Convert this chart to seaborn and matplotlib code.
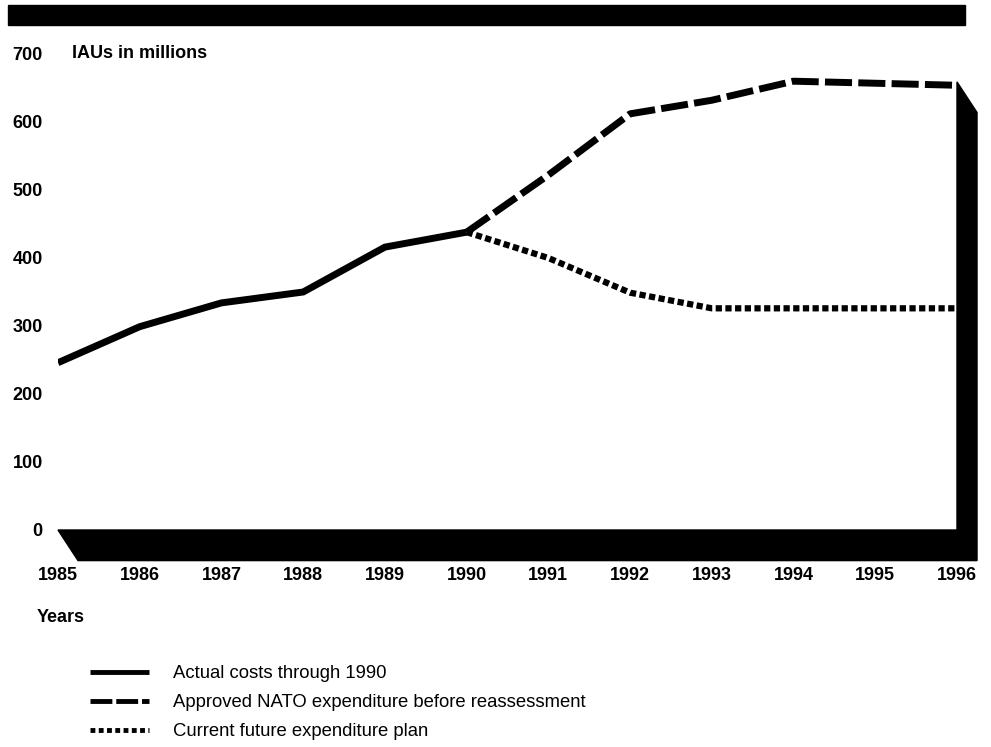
# NATO infrastructure expenditure chart (IAUs in millions)
import pandas as pd
import matplotlib.pyplot as plt
import seaborn as sns
from matplotlib.lines import Line2D
from matplotlib.patches import Rectangle

# data
years = [1985, 1986, 1987, 1988, 1989, 1990, 1991, 1992, 1993, 1994, 1995, 1996]
actual_years = [1985, 1986, 1987, 1988, 1989, 1990]
actual = [246, 299, 334, 350, 416, 438]
plan_years = [1990, 1991, 1992, 1993, 1994, 1995, 1996]
approved = [438, 522, 612, 632, 660, 657, 654]
current_plan = [438, 400, 349, 326, 326, 326, 326]
y_ticks = [0, 100, 200, 300, 400, 500, 600, 700]

labels = ["Actual costs through 1990",
          "Approved NATO expenditure before reassessment",
          "Current future expenditure plan"]

df_actual = pd.DataFrame({"year": actual_years, "value": actual})
df_plan = pd.DataFrame({"year": plan_years, "approved": approved, "current": current_plan})

sns.set_style("white")
plt.rcParams['font.family'] = ['Liberation Sans', 'DejaVu Sans']
plt.rcParams['text.color'] = 'black'
plt.rcParams['xtick.color'] = 'black'
plt.rcParams['ytick.color'] = 'black'

fig = plt.figure(figsize=(9.91, 7.47), dpi=100)
ax = fig.add_axes([58 / 991, 1 - 530 / 747, (957 - 58) / 991, 476 / 747])

# black bar across the top
fig.patches.append(Rectangle((8 / 991, 1 - 25 / 747), (965 - 8) / 991, 20 / 747,
                             transform=fig.transFigure, color='black', zorder=0))

dash_style = (0, (3.9, 0.9))
dot_style = (0, (1.0, 0.55))

sns.lineplot(data=df_actual, x="year", y="value", ax=ax, color='black', lw=5,
             solid_capstyle='butt', solid_joinstyle='miter')
sns.lineplot(data=df_plan, x="year", y="approved", ax=ax, color='black', lw=5,
             linestyle=dash_style, dash_capstyle='butt')
sns.lineplot(data=df_plan, x="year", y="current", ax=ax, color='black', lw=4.5,
             linestyle=dot_style, dash_capstyle='butt')

ax.set_xlim(years[0], years[-1])
ax.set_ylim(0, 700)

# 3-D looking floor and right wall
dx, dy = 0.245, 45
top = approved[-1] + 5
ax.fill([years[0], years[-1], years[-1], years[-1] + dx, years[-1] + dx, years[0] + dx],
        [0, 0, top, top - dy, -dy, -dy], color='black', clip_on=False, zorder=1)

for s in ax.spines.values():
    s.set_visible(False)
ax.set_xticks(years)
ax.set_yticks(y_ticks)
ax.tick_params(axis='x', length=0, pad=27, labelsize=13)
ax.tick_params(axis='y', length=0, pad=11, labelsize=13)
for t in ax.get_xticklabels() + ax.get_yticklabels():
    t.set_fontweight('bold')
ax.set_xlabel("")
ax.set_ylabel("")

fig.text(72 / 991, 1 - 54 / 747, "IAUs in millions", fontsize=13, fontweight='bold',
         va='center', ha='left')
fig.text(37 / 991, 1 - 618 / 747, "Years", fontsize=13, fontweight='bold',
         va='center', ha='left')

handles = [Line2D([], [], color='black', lw=3.5, solid_capstyle='butt'),
           Line2D([], [], color='black', lw=3.5, linestyle=(0, (4.5, 0.8)), dash_capstyle='butt'),
           Line2D([], [], color='black', lw=3.5, linestyle=(0, (1.0, 0.7)), dash_capstyle='butt')]
fig.legend(handles, labels, loc='upper left', bbox_to_anchor=(90 / 991, 1 - 665 / 747),
           frameon=False, fontsize=13.3, handlelength=3.2, handletextpad=1.3,
           labelspacing=0.66, borderpad=0, borderaxespad=0)

fig.savefig("out.png", dpi=100)
